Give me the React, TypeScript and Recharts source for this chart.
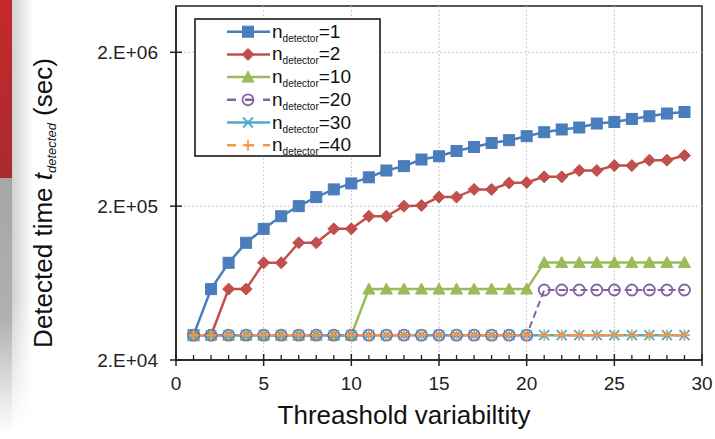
import React from "react";
import {
  LineChart,
  Line,
  XAxis,
  YAxis,
  ReferenceLine,
  ReferenceArea,
  Label,
} from "recharts";

const xValues = [1, 2, 3, 4, 5, 6, 7, 8, 9, 10, 11, 12, 13, 14, 15, 16, 17, 18, 19, 20, 21, 22, 23, 24, 25, 26, 27, 28, 29];
const det1 = [29000, 57800, 85700, 115600, 142400, 172000, 200000, 229000, 257000, 281000, 308000, 341000, 364000, 402000, 422000, 457000, 485000, 515000, 537000, 570000, 605000, 630000, 649000, 689000, 705000, 738000, 768000, 800000, 819000];
const det2 = [29000, 29000, 57800, 57800, 85700, 85700, 115600, 115600, 142400, 142400, 172000, 172000, 200000, 202000, 229000, 229000, 257000, 257000, 283000, 285000, 310000, 310000, 341000, 341000, 367000, 367000, 398000, 398000, 427000];
const det10 = [29000, 29000, 29000, 29000, 29000, 29000, 29000, 29000, 29000, 29000, 57800, 57800, 57800, 57800, 57800, 57800, 57800, 57800, 57800, 57800, 86000, 86000, 86000, 86000, 86000, 86000, 86000, 86000, 86000];
const det20 = [29000, 29000, 29000, 29000, 29000, 29000, 29000, 29000, 29000, 29000, 29000, 29000, 29000, 29000, 29000, 29000, 29000, 29000, 29000, 29000, 57000, 57000, 57000, 57000, 57000, 57000, 57000, 57000, 57000];
const det30 = [29000, 29000, 29000, 29000, 29000, 29000, 29000, 29000, 29000, 29000, 29000, 29000, 29000, 29000, 29000, 29000, 29000, 29000, 29000, 29000, 29000, 29000, 29000, 29000, 29000, 29000, 29000, 29000, 29000];
const det40 = [29000, 29000, 29000, 29000, 29000, 29000, 29000, 29000, 29000, 29000, 29000, 29000, 29000, 29000, 29000, 29000, 29000, 29000, 29000, 29000, 29000, 29000, 29000, 29000, 29000, 29000, 29000, 29000, 29000];

const xTicks = [0, 1, 2, 3, 4, 5, 6, 7, 8, 9, 10, 11, 12, 13, 14, 15, 16, 17, 18, 19, 20, 21, 22, 23, 24, 25, 26, 27, 28, 29, 30];
const xMajor = [0, 5, 10, 15, 20, 25, 30];
const yTicks = [20000, 200000, 2000000];
const yTickLabels = ["2.E+04", "2.E+05", "2.E+06"];
const yDomain = [20000, 4000000];
const seriesNames = ["1", "2", "10", "20", "30", "40"];

const FONT = "'Liberation Sans', Arial, sans-serif";

const series = [
  { key: "d1", values: det1, color: "#4a7dbb", marker: "square", dash: undefined, width: 2.5 },
  { key: "d2", values: det2, color: "#c0504d", marker: "diamond", dash: undefined, width: 2.5 },
  { key: "d10", values: det10, color: "#9bbb59", marker: "triangle", dash: undefined, width: 2.5 },
  { key: "d20", values: det20, color: "#8064a2", marker: "circle", dash: "7 4", width: 2 },
  { key: "d30", values: det30, color: "#4bacc6", marker: "x", dash: undefined, width: 2.5 },
  { key: "d40", values: det40, color: "#f79646", marker: "plus", dash: "10 5", width: 2.5 },
];

const data = xValues.map((x, i) => ({
  x,
  d1: det1[i],
  d2: det2[i],
  d10: det10[i],
  d20: det20[i],
  d30: det30[i],
  d40: det40[i],
}));

function Marker({ type, cx, cy, color }: { type: string; cx: number; cy: number; color: string }) {
  if (cx == null || cy == null) return null;
  switch (type) {
    case "square":
      return <rect x={cx - 5.5} y={cy - 5.5} width={11} height={11} fill={color} stroke={color} />;
    case "diamond":
      return (
        <polygon
          points={`${cx},${cy - 6} ${cx + 6},${cy} ${cx},${cy + 6} ${cx - 6},${cy}`}
          fill={color}
          stroke={color}
        />
      );
    case "triangle":
      return (
        <polygon
          points={`${cx},${cy - 6} ${cx + 6},${cy + 5} ${cx - 6},${cy + 5}`}
          fill={color}
          stroke={color}
        />
      );
    case "circle":
      return <circle cx={cx} cy={cy} r={5.5} fill="none" stroke={color} strokeWidth={1.8} />;
    case "x":
      return (
        <g stroke={color} strokeWidth={1.8}>
          <line x1={cx - 5} y1={cy - 5} x2={cx + 5} y2={cy + 5} />
          <line x1={cx - 5} y1={cy + 5} x2={cx + 5} y2={cy - 5} />
        </g>
      );
    case "plus":
      return (
        <g stroke={color} strokeWidth={1.8}>
          <line x1={cx - 5.5} y1={cy} x2={cx + 5.5} y2={cy} />
          <line x1={cx} y1={cy - 5.5} x2={cx} y2={cy + 5.5} />
        </g>
      );
    default:
      return null;
  }
}

function XTick(props: any) {
  const { x, y, payload } = props;
  const v = payload.value;
  const major = xMajor.includes(v);
  return (
    <g>
      {major ? (
        <line x1={x} y1={y - 6} x2={x} y2={y + 6} stroke="#222" strokeWidth={1.5} />
      ) : (
        <line x1={x} y1={y - 5} x2={x} y2={y} stroke="#222" strokeWidth={1.3} />
      )}
      {major ? (
        <text x={x} y={y + 30} textAnchor="middle" fontSize={19} fill="#222" fontFamily={FONT}>
          {v}
        </text>
      ) : null}
    </g>
  );
}

function YTick(props: any) {
  const { x, y, payload } = props;
  const idx = yTicks.indexOf(payload.value);
  return (
    <g>
      <line x1={x - 6} y1={y} x2={x + 6} y2={y} stroke="#222" strokeWidth={1.5} />
      <text x={x - 18} y={y + 7} textAnchor="end" fontSize={19} fill="#222" fontFamily={FONT}>
        {idx >= 0 ? yTickLabels[idx] : ""}
      </text>
    </g>
  );
}

function LegendBox() {
  const top = 19;
  const left = 195;
  const w = 185;
  const h = 137;
  const rowGap = 22.7;
  return (
    <svg
      width={w + 4}
      height={h + 4}
      style={{ position: "absolute", left: left - 2, top: top - 2, overflow: "visible" }}
    >
      <rect x={2} y={2} width={w} height={h} fill="#fff" stroke="#1a1a1a" strokeWidth={1.6} />
      {series.map((s, i) => {
        const cy = 2 + 12.7 + i * rowGap;
        const lx1 = 2 + 32;
        const lx2 = 2 + 75;
        const mx = 2 + 53;
        return (
          <g key={s.key}>
            <line
              x1={lx1}
              y1={cy}
              x2={lx2}
              y2={cy}
              stroke={s.color}
              strokeWidth={2.5}
              strokeDasharray={s.dash ? "9 9" : undefined}
            />
            <Marker type={s.marker} cx={mx} cy={cy} color={s.color} />
            <text x={2 + 77} y={cy + 6} fontSize={19} fill="#111" fontFamily={FONT}>
              <tspan>n</tspan>
              <tspan fontSize={10} dy={4}>detector</tspan>
              <tspan dy={-4}>={seriesNames[i]}</tspan>
            </text>
          </g>
        );
      })}
    </svg>
  );
}

export default function App() {
  return (
    <div
      style={{
        position: "absolute",
        left: 0,
        top: 0,
        width: 715,
        height: 439,
        background: "#fff",
        overflow: "hidden",
        fontFamily: FONT,
      }}
    >
      <div
        style={{
          position: "absolute",
          left: 11,
          top: 0,
          width: 22,
          height: 430,
          background: "linear-gradient(to right, rgba(190,190,190,0.75), rgba(255,255,255,0))",
          WebkitMaskImage: "linear-gradient(to bottom, #000 70%, transparent 100%)",
          maskImage: "linear-gradient(to bottom, #000 70%, transparent 100%)",
        }}
      />
      <div
        style={{
          position: "absolute",
          left: 0,
          top: 178,
          width: 12,
          height: 255,
          background: "linear-gradient(to bottom, #a6a6a6 0%, #b0b0b0 55%, #ffffff 100%)",
        }}
      />
      <div
        style={{
          position: "absolute",
          left: 0,
          top: 0,
          width: 12,
          height: 178,
          background: "linear-gradient(to bottom, #c4292d, #aa2a2c)",
        }}
      />
      <LineChart
        width={715}
        height={439}
        data={data}
        margin={{ top: 6, right: 13, left: 0, bottom: 0 }}
        style={{ position: "absolute", left: 0, top: 0 }}
      >
        {[5, 10, 15, 20, 25].map((v) => (
          <ReferenceLine key={"gx" + v} x={v} stroke="#c8c8c8" strokeDasharray="2 2" strokeWidth={1} />
        ))}
        {[200000, 2000000].map((v) => (
          <ReferenceLine key={"gy" + v} y={v} stroke="#c8c8c8" strokeDasharray="2 2" strokeWidth={1} />
        ))}
        <ReferenceArea
          x1={0}
          x2={30}
          y1={yDomain[0]}
          y2={yDomain[1]}
          fill="none"
          fillOpacity={0}
          stroke="#222"
          strokeWidth={1.5}
        />
        <XAxis
          dataKey="x"
          type="number"
          domain={[0, 30]}
          ticks={xTicks}
          interval={0}
          height={79}
          tickSize={0}
          tickMargin={0}
          tickLine={false}
          axisLine={{ stroke: "#222", strokeWidth: 1.5 }}
          tick={<XTick />}
        >
          <Label
            content={() => (
              <text x={404} y={424} textAnchor="middle" fontSize={26} fill="#111" fontFamily={FONT}>
                Threashold variabiltity
              </text>
            )}
          />
        </XAxis>
        <YAxis
          type="number"
          scale="log"
          domain={yDomain}
          allowDataOverflow
          ticks={yTicks}
          interval={0}
          width={176}
          tickSize={0}
          tickMargin={0}
          tickLine={false}
          axisLine={{ stroke: "#222", strokeWidth: 1.5 }}
          tick={<YTick />}
        >
          <Label
            content={() => (
              <text
                transform="translate(52, 203) rotate(-90)"
                textAnchor="middle"
                fontSize={26}
                fill="#111"
                fontFamily={FONT}
              >
                <tspan>Detected time </tspan>
                <tspan fontStyle="italic">t</tspan>
                <tspan fontStyle="italic" fontSize={13} dy={4}>detected</tspan>
                <tspan dy={-4}> (sec)</tspan>
              </text>
            )}
          />
        </YAxis>
        {series.map((s) => (
          <Line
            key={s.key}
            dataKey={s.key}
            type="linear"
            stroke={s.color}
            strokeWidth={s.width}
            strokeDasharray={s.dash}
            isAnimationActive={false}
            activeDot={false}
            dot={(p: any) => (
              <Marker key={s.key + "-" + p.index} type={s.marker} cx={p.cx} cy={p.cy} color={s.color} />
            )}
          />
        ))}
      </LineChart>
      <LegendBox />
    </div>
  );
}
